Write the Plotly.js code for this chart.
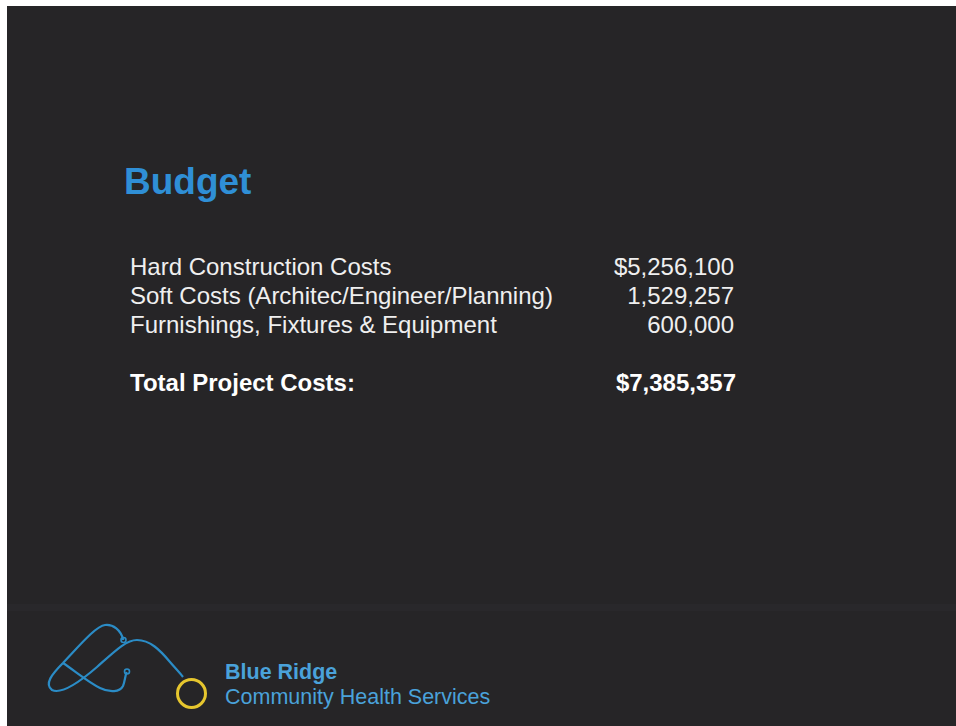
<!DOCTYPE html>
<html>
<head>
<meta charset="utf-8">
<script src="https://cdn.plot.ly/plotly-3.0.1.min.js"></script>
<style>html,body{margin:0;padding:0;background:#fff;}#chart{width:956px;height:726px;}</style>
</head>
<body>
<div id="chart"></div>
<script>
// ---- data ----
const titleText = "Budget";
const categories = [
  "Hard Construction Costs",
  "Soft Costs (Architec/Engineer/Planning)",
  "Furnishings, Fixtures & Equipment"
];
const costs = [5256100, 1529257, 600000];
const totalLabel = "Total Project Costs:";
const rowIndex = [0, 1, 2];
const totalRow = 4;
const orgName = "Blue Ridge";
const orgSub = "Community Health Services";

// ---- helpers ----
function fmt(n) { return n.toString().replace(/\B(?=(\d{3})+(?!\d))/g, ","); }
const total = costs.reduce((a, b) => a + b, 0);
const valueLabels = costs.map((c, i) => (i === 0 ? "$" : "") + fmt(c));

const FONT = "Liberation Sans, Arial, Helvetica, sans-serif";
const TXT = "#efefef";

const traces = [
  { // category labels
    type: "scatter", mode: "text", x: categories.map(() => 130), y: rowIndex,
    text: categories, textposition: "middle right", cliponaxis: false,
    textfont: { family: FONT, size: 24, color: TXT }, hoverinfo: "skip", showlegend: false
  },
  { // values
    type: "scatter", mode: "text", x: costs.map(() => 734), y: rowIndex,
    text: valueLabels, textposition: "middle left", cliponaxis: false,
    textfont: { family: FONT, size: 24, color: TXT }, hoverinfo: "skip", showlegend: false
  },
  { // total row
    type: "scatter", mode: "text", x: [130, 736], y: [totalRow, totalRow],
    text: ["<b>" + totalLabel + "</b>", "<b>$" + fmt(total) + "</b>"],
    textposition: ["middle right", "middle left"], cliponaxis: false,
    textfont: { family: FONT, size: 24, color: "#ffffff" }, hoverinfo: "skip", showlegend: false
  }
];

const BLUE = "#2b8cc6";
const shapes = [
  { type: "rect", xref: "x", yref: "y2", x0: 7, x1: 956, y0: 6, y1: 726,
    fillcolor: "#262527", line: { width: 0 }, layer: "below" },
  { type: "rect", xref: "x", yref: "y2", x0: 7, x1: 956, y0: 604, y1: 611,
    fillcolor: "#29282b", line: { width: 0 }, layer: "below" },
  // logo curve A
  { type: "path", xref: "x", yref: "y2", layer: "above",
    path: "M 123.3 640 C 121 630, 113 624, 105 625 C 96 626, 80 645, 63 663 C 52 674, 44 684, 52 690 C 60 694, 75 686, 97 667 C 115 651, 126 640, 137 640 C 150 640, 160 650, 170 662 C 176 669, 180 673, 183 677",
    line: { color: BLUE, width: 2.2 } },
  // logo curve B
  { type: "path", xref: "x", yref: "y2", layer: "above",
    path: "M 63 663 C 75 671, 88 682, 100 688 C 110 693, 120 692, 123 686 C 125 681, 125 676, 126.7 672",
    line: { color: BLUE, width: 2.2 } },
  { type: "circle", xref: "x", yref: "y2", x0: 121, x1: 126, y0: 637.5, y1: 642.5,
    line: { color: BLUE, width: 1.6 } },
  { type: "circle", xref: "x", yref: "y2", x0: 124.5, x1: 129.5, y0: 669, y1: 674,
    line: { color: BLUE, width: 1.6 } },
  { type: "circle", xref: "x", yref: "y2", x0: 177.5, x1: 205.5, y0: 679.5, y1: 707.5,
    line: { color: "#e6c62e", width: 3 } }
];

const annotations = [
  { text: "<b>" + titleText + "</b>", xref: "x", yref: "y2", x: 122, y: 181,
    xanchor: "left", yanchor: "middle", showarrow: false,
    font: { family: FONT, size: 37, color: "#2f8fd6" } },
  { text: "<b>" + orgName + "</b>", xref: "x", yref: "y2", x: 223, y: 672,
    xanchor: "left", yanchor: "middle", showarrow: false,
    font: { family: FONT, size: 21.5, color: "#4aa2da" } },
  { text: orgSub, xref: "x", yref: "y2", x: 223, y: 697,
    xanchor: "left", yanchor: "middle", showarrow: false,
    font: { family: FONT, size: 21.5, color: "#4aa2da" } }
];

const layout = {
  width: 956, height: 726,
  margin: { l: 0, r: 0, t: 0, b: 0, pad: 0 },
  paper_bgcolor: "#ffffff", plot_bgcolor: "rgba(0,0,0,0)",
  xaxis: { range: [0, 956], visible: false, fixedrange: true },
  yaxis: { range: [15.7586, -9.2759], visible: false, fixedrange: true },
  yaxis2: { range: [726, 0], overlaying: "y", visible: false, fixedrange: true },
  shapes: shapes, annotations: annotations, showlegend: false
};

Plotly.newPlot("chart", traces, layout, { displayModeBar: false, staticPlot: true });
</script>
</body>
</html>
